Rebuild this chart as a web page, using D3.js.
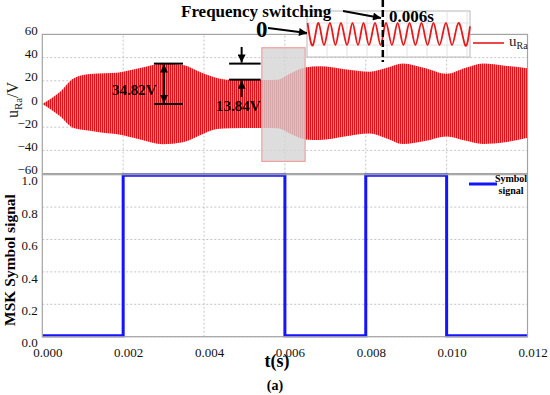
<!DOCTYPE html>
<html>
<head>
<meta charset="utf-8">
<script src="https://cdn.jsdelivr.net/npm/d3@7"></script>
<style>
body { margin: 0; background: #fff; }
svg { display: block; font-family: "Liberation Serif", "Times New Roman", serif; }
</style>
</head>
<body>
<svg width="550" height="395"></svg>
<script>
// envelope of u_Ra (V)
const envTime = [0, 0.00044, 0.00077, 0.00118, 0.00155, 0.00185, 0.00242, 0.00298, 0.00348, 0.0039,
  0.00432, 0.00464, 0.00543, 0.00583, 0.00612, 0.0065, 0.00686, 0.00748, 0.0081, 0.0085,
  0.00892, 0.00946, 0.0100, 0.01045, 0.0109, 0.01144, 0.012];
const envUpper = [0, 10.6, 22, 25.9, 26.5, 27, 31, 34.6, 33.6, 27.6,
  22.4, 20.8, 20.7, 21, 26, 31.5, 32.5, 30, 27.8, 31,
  35, 31, 26, 31, 35, 33, 30.8];
const envLower = [0, -10.6, -20.7, -23, -25, -26, -30.5, -34.6, -33, -27,
  -21.5, -20.8, -20.7, -21, -25.5, -30.5, -31, -28, -25.5, -29.5,
  -34.5, -32, -28, -31.5, -34.5, -33, -29];

// MSK symbol signal
const symTime = [0, 0.002, 0.006, 0.008, 0.010, 0.012];
const symValue = [0.006, 0.996, 0.006, 0.996, 0.006, 0.006];

// zoomed waveform around the switch (inset), extrema only
const insetTime = [0.005603, 0.005632, 0.005661, 0.005690, 0.005721, 0.005750, 0.005779, 0.005811,
  0.005840, 0.005869, 0.005898, 0.005927, 0.005959, 0.005988, 0.006017, 0.006048, 0.006078,
  0.006109, 0.006141, 0.006172, 0.006204, 0.006236, 0.006267, 0.006299, 0.006333, 0.006365,
  0.006399, 0.006434, 0.00646];
const insetValue = [1, -1, 1, -1, 1, -1, 1, -1, 1, -1, 1, -1, 1, -1, 1, -1, 1, -1, 1, -1,
  1, -1, 1, -1, 1, -1, 1, -1, 0.7];

const tTicks = [0, 0.002, 0.004, 0.006, 0.008, 0.010, 0.012];
const uTicks = [-60, -40, -20, 0, 20, 40, 60];
const sTicks = [0, 0.2, 0.4, 0.6, 0.8, 1.0];

const highlightTime = [0.00543, 0.0065];
const highlightVolt = [-49.5, 48.5];
const ampMax = 34.82;
const ampDrop = 13.84;
const switchTime = 0.006;

const svg = d3.select('svg');
const x = d3.scaleLinear([0, 0.012], [42.3, 527.5]);
const yU = d3.scaleLinear([-60, 60], [173.6, 34.4]);
const yS = d3.scaleLinear([0, 1], [336.7, 174.7]);
const xi = d3.scaleLinear([0.0056, 0.00646], [307, 470]);
const yi = d3.scaleLinear([-1, 1], [45, 23]);

const gridColor = '#c4c4c4';
const frameColor = '#a3a3a3';

const defs = svg.append('defs');
const pat = defs.append('pattern')
  .attr('id', 'carrier')
  .attr('patternUnits', 'userSpaceOnUse')
  .attr('width', 2)
  .attr('height', 4);
pat.append('rect').attr('width', 2).attr('height', 4).attr('fill', '#f07e7e');
pat.append('rect').attr('width', 1).attr('height', 4).attr('fill', '#e01018');

defs.append('marker')
  .attr('id', 'head')
  .attr('viewBox', '0 0 10 10')
  .attr('refX', 10)
  .attr('refY', 5)
  .attr('markerUnits', 'userSpaceOnUse')
  .attr('markerWidth', 10)
  .attr('markerHeight', 8)
  .attr('orient', 'auto-start-reverse')
  .append('path')
  .attr('d', 'M0,0L10,5L0,10Z')
  .attr('fill', '#000');

function hGrid(values, scale) {
  svg.append('g').selectAll('line').data(values).join('line')
    .attr('x1', x(0)).attr('x2', x(0.012))
    .attr('y1', d => scale(d)).attr('y2', d => scale(d))
    .attr('stroke', gridColor).attr('stroke-dasharray', '2,2');
}

function vGrid(scale) {
  svg.append('g').selectAll('line').data(tTicks.slice(1, -1)).join('line')
    .attr('x1', d => x(d)).attr('x2', d => x(d))
    .attr('y1', scale.range()[0]).attr('y2', scale.range()[1])
    .attr('stroke', gridColor).attr('stroke-dasharray', '2,2');
}

function frame(scale) {
  svg.append('rect')
    .attr('x', x(0)).attr('y', scale.range()[1])
    .attr('width', x(0.012) - x(0)).attr('height', scale.range()[0] - scale.range()[1])
    .attr('fill', 'none').attr('stroke', frameColor).attr('stroke-width', 1.2);
}

function arrow(x1, y1, x2, y2, both) {
  const l = svg.append('line')
    .attr('x1', x1).attr('y1', y1).attr('x2', x2).attr('y2', y2)
    .attr('stroke', '#000').attr('stroke-width', 2)
    .attr('marker-end', 'url(#head)');
  if (both) l.attr('marker-start', 'url(#head)');
}

// ---------- top panel ----------
hGrid([-40, -20, 20, 40], yU);
vGrid(yU);

const idx = d3.range(envTime.length);
svg.append('path')
  .datum(idx)
  .attr('fill', 'url(#carrier)')
  .attr('d', d3.area()
    .x(i => x(envTime[i]))
    .y0(i => yU(envLower[i]))
    .y1(i => yU(envUpper[i]))
    .curve(d3.curveMonotoneX));

svg.append('rect')
  .attr('x', x(highlightTime[0]))
  .attr('y', yU(highlightVolt[1]))
  .attr('width', x(highlightTime[1]) - x(highlightTime[0]))
  .attr('height', yU(highlightVolt[0]) - yU(highlightVolt[1]))
  .attr('fill', '#d4d4d4').attr('fill-opacity', 0.78)
  .attr('stroke', '#f0a0a0').attr('stroke-width', 1.2);

frame(yU);

const yAxisU = svg.append('g')
  .attr('transform', `translate(${x(0)},0)`)
  .call(d3.axisLeft(yU).tickValues(uTicks).tickSize(0).tickPadding(4.5));
yAxisU.select('.domain').remove();
yAxisU.selectAll('text').attr('y', -4).attr('font-size', 13).attr('font-family', 'Liberation Serif').attr('fill', '#111');

// amplitude annotations
svg.append('g').selectAll('line').data([ampMax, 0]).join('line')
  .attr('x1', x(0.00276)).attr('x2', x(0.00348))
  .attr('y1', d => yU(d)).attr('y2', d => yU(d))
  .attr('stroke', '#000').attr('stroke-width', 2);
arrow(x(0.00301), yU(ampMax) + 1, x(0.00301), yU(0) - 1, true);
svg.append('text').attr('x', 112).attr('y', 95)
  .attr('font-size', 15).attr('font-weight', 'bold').text(ampMax.toFixed(2) + 'V');

svg.append('g').selectAll('line').data([ampMax, ampMax - ampDrop]).join('line')
  .attr('x1', x(0.00462)).attr('x2', x(0.0054))
  .attr('y1', d => yU(d)).attr('y2', d => yU(d))
  .attr('stroke', '#000').attr('stroke-width', 2);
arrow(x(0.00493), 47, x(0.00493), yU(ampMax) - 1);
arrow(x(0.00493), 97, x(0.00493), yU(ampMax - ampDrop) + 1);
svg.append('text').attr('x', 216).attr('y', 111)
  .attr('font-size', 15).attr('font-weight', 'bold').text(ampDrop.toFixed(2) + 'V');

// legend top
svg.append('line').attr('x1', 473).attr('x2', 504).attr('y1', 43).attr('y2', 43)
  .attr('stroke', '#e8191c').attr('stroke-width', 1.6);
const lg = svg.append('text').attr('x', 509).attr('y', 46).attr('font-size', 15).attr('fill', '#222');
lg.append('tspan').text('u');
lg.append('tspan').attr('dy', 3).attr('font-size', 10).text('Ra');

// inset
const inset = svg.append('g');
inset.append('rect').attr('x', 307).attr('y', 11).attr('width', 163).attr('height', 46)
  .attr('fill', '#fff').attr('stroke', '#b8b8b8');
inset.selectAll('.ih').data([23, 34, 45]).join('line')
  .attr('x1', 307).attr('x2', 470).attr('y1', d => d).attr('y2', d => d)
  .attr('stroke', '#e2e2e2');
inset.selectAll('.iv').data(d3.range(327, 470, 20)).join('line')
  .attr('x1', d => d).attr('x2', d => d).attr('y1', 11).attr('y2', 57)
  .attr('stroke', '#e2e2e2');
inset.append('path')
  .datum(d3.range(insetTime.length))
  .attr('fill', 'none').attr('stroke', '#e8191c').attr('stroke-width', 1.8)
  .attr('d', d3.line().x(i => xi(insetTime[i])).y(i => yi(insetValue[i])).curve(d3.curveNatural));

svg.append('line').attr('x1', xi(switchTime)).attr('x2', xi(switchTime)).attr('y1', 0).attr('y2', 62)
  .attr('stroke', '#000').attr('stroke-width', 2.5).attr('stroke-dasharray', '7,3');

svg.append('text').attr('x', 181).attr('y', 17)
  .attr('font-size', 17).attr('font-weight', 'bold').text('Frequency switching');
svg.append('text').attr('x', 256).attr('y', 37)
  .attr('font-size', 23).attr('font-weight', 'bold').text('0');
svg.append('text').attr('x', 389).attr('y', 22)
  .attr('font-size', 17).attr('font-weight', 'bold').text(switchTime.toFixed(3) + 's');
arrow(268, 28, 307, 33);
arrow(343, 11, 381, 18);

// y title top
const ty = svg.append('text').attr('transform', 'translate(18,100) rotate(-90)')
  .attr('text-anchor', 'middle').attr('font-size', 16).attr('fill', '#222');
ty.append('tspan').text('u');
ty.append('tspan').attr('dy', 4).attr('font-size', 11).text('Ra');
ty.append('tspan').attr('dy', -4).text('/V');

// ---------- bottom panel ----------
hGrid([0, 0.2, 0.4, 0.6, 0.8], yS);
vGrid(yS);

svg.append('path')
  .datum(d3.range(symTime.length))
  .attr('fill', 'none').attr('stroke', '#1414ff').attr('stroke-width', 3)
  .attr('d', d3.line().x(i => x(symTime[i])).y(i => yS(symValue[i])).curve(d3.curveStepAfter));

frame(yS);

const yAxisS = svg.append('g')
  .attr('transform', `translate(${x(0)},0)`)
  .call(d3.axisLeft(yS).tickValues(sTicks).tickFormat(d3.format('.1f')).tickSize(0).tickPadding(4.5));
yAxisS.select('.domain').remove();
yAxisS.selectAll('text').attr('y', 6).attr('font-size', 13).attr('font-family', 'Liberation Serif').attr('fill', '#111');

const xAxis = svg.append('g')
  .attr('transform', `translate(0,${yS(0)})`)
  .call(d3.axisBottom(x).tickValues(tTicks).tickFormat(d3.format('.3f')).tickSize(0).tickPadding(11));
xAxis.select('.domain').remove();
xAxis.selectAll('text').attr('x', 5).attr('font-size', 13).attr('font-family', 'Liberation Serif').attr('fill', '#111');

// legend bottom
svg.append('line').attr('x1', 469).attr('x2', 497).attr('y1', 184).attr('y2', 184)
  .attr('stroke', '#1414ff').attr('stroke-width', 3);
svg.append('text').attr('x', 511).attr('y', 182).attr('text-anchor', 'middle')
  .attr('font-size', 10).attr('font-weight', 'bold').text('Symbol');
svg.append('text').attr('x', 511).attr('y', 194).attr('text-anchor', 'middle')
  .attr('font-size', 10).attr('font-weight', 'bold').text('signal');

svg.append('text').attr('transform', 'translate(15,260) rotate(-90)')
  .attr('text-anchor', 'middle').attr('font-size', 15.5).attr('font-weight', 'bold')
  .text('MSK Symbol signal');

svg.append('text').attr('x', 277).attr('y', 367).attr('text-anchor', 'middle')
  .attr('font-size', 18).attr('font-weight', 'bold').text('t(s)');
svg.append('text').attr('x', 275).attr('y', 390).attr('text-anchor', 'middle')
  .attr('font-size', 14).attr('font-weight', 'bold').text('(a)');
</script>
</body>
</html>
